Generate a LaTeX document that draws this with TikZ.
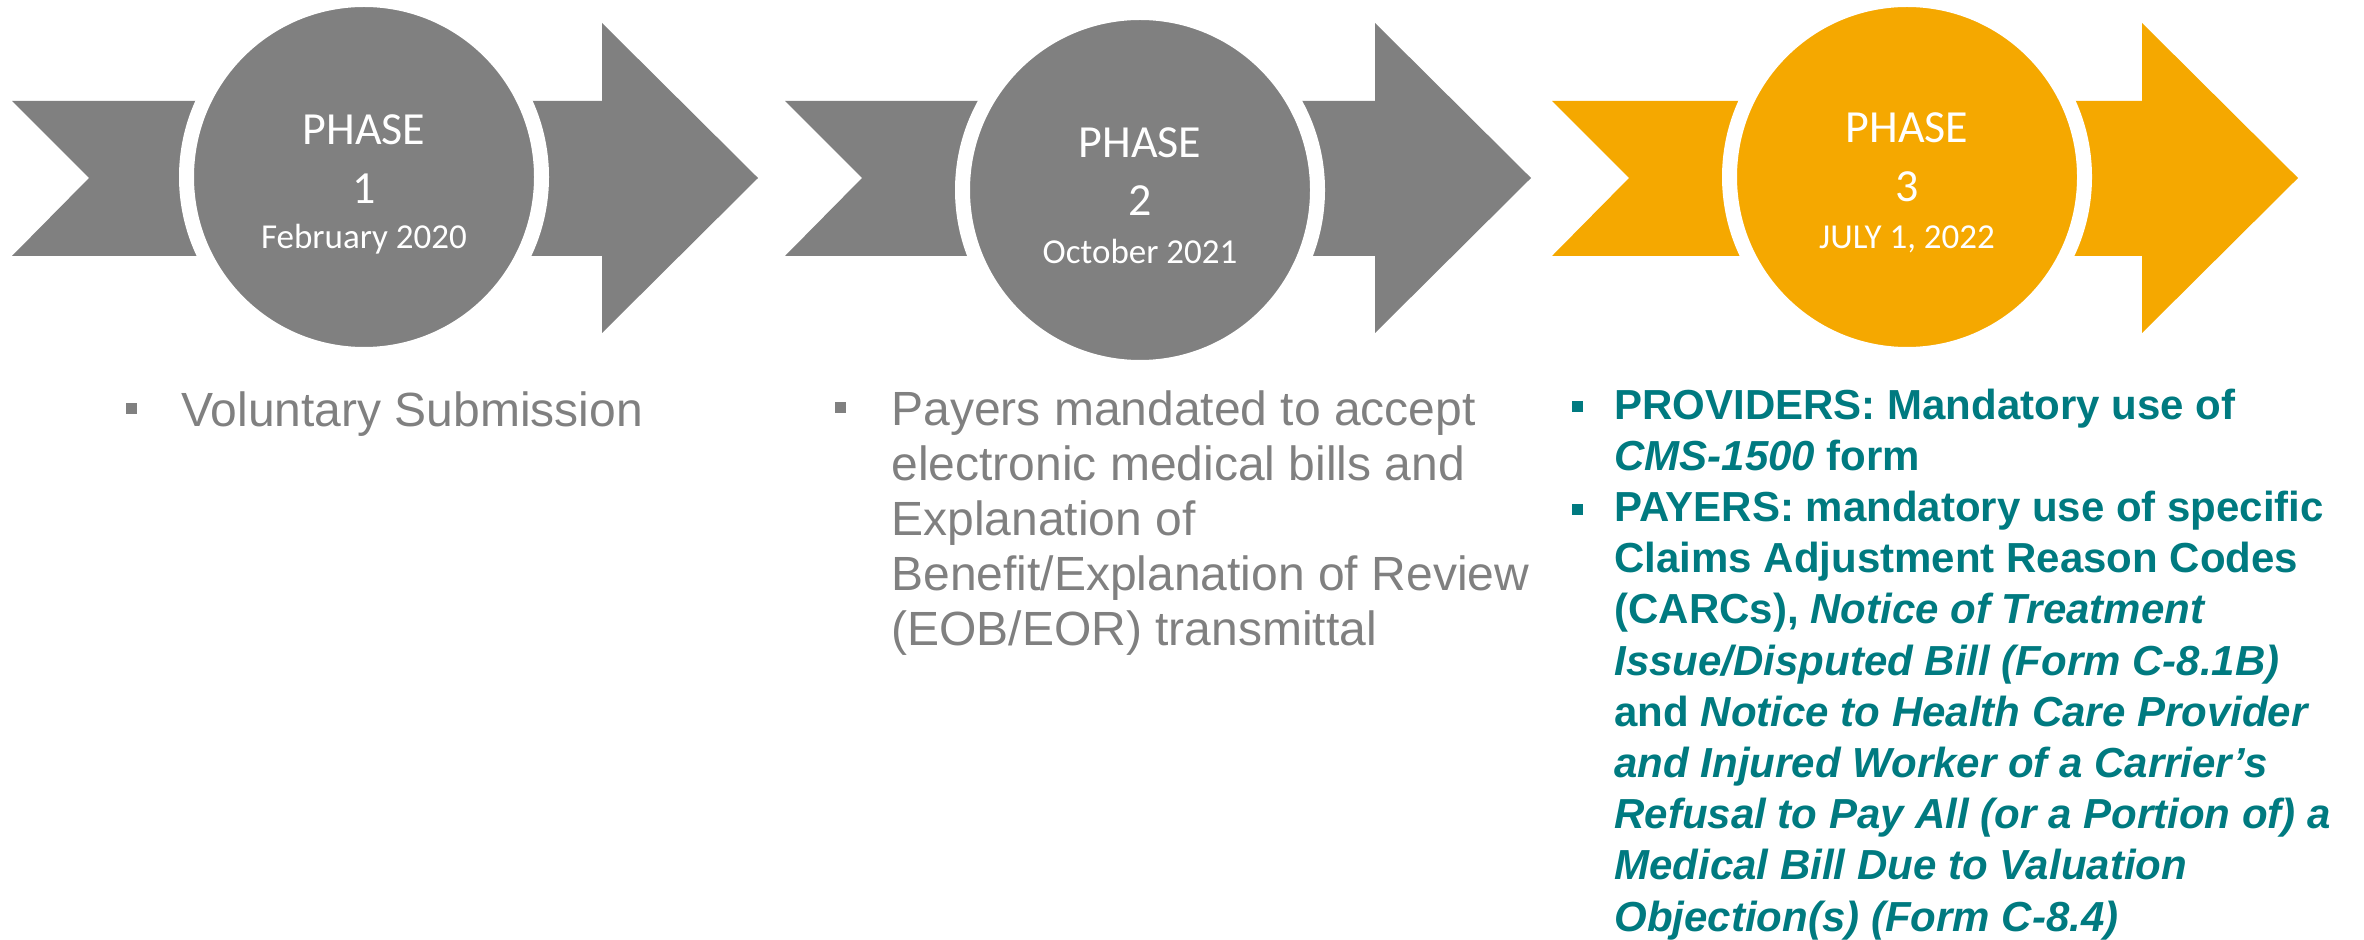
\documentclass[tikz,border=0pt]{standalone}
\usepackage{fontspec}
\setmainfont{Liberation Sans}
\newfontfamily\calfont{Carlito}
\usetikzlibrary{calc}
\definecolor{phgray}{RGB}{128,128,128}
\definecolor{phorange}{RGB}{245,168,0}
\definecolor{phteal}{RGB}{0,122,128}
\newcommand{\phasearrow}[2]{\fill[#2] (#1,101) -- ++(590,0) -- ++(0,-78) -- ++(156,155) -- ++(-156,155) -- ++(0,-77) -- ++(-590,0) -- ++(77,-78) -- cycle;}

\begin{document}
\begin{tikzpicture}[x=0.5pt,y=-0.5pt,
    disc/.style={circle,fill=#1,draw=white,line width=7.5pt,minimum size=177.5pt,inner sep=0pt},
    phtitle/.style={anchor=base,text=white,inner sep=0pt,font=\calfont\fontsize{23}{28}\selectfont},
    phdate/.style={anchor=base,text=white,inner sep=0pt,font=\calfont\fontsize{17.5}{21}\selectfont},
    sq/.style={fill=#1,minimum size=5.5pt,inner sep=0pt},
    graytext/.style={anchor=base west,inner sep=0pt,text=phgray,align=left,font=\fontsize{24}{27.5}\selectfont},
    tealtext/.style={anchor=base west,inner sep=0pt,text=phteal,align=left,font=\fontsize{21}{25.6}\selectfont\bfseries}]
    \useasboundingbox (0,0) rectangle (2364,940);
    %arrows
    \phasearrow{12}{phgray}
    \phasearrow{785}{phgray}
    \phasearrow{1552}{phorange}
    %circles
    \node[disc=phgray] (c1) at (364,177) {};
    \node[disc=phgray] (c2) at (1140,190) {};
    \node[disc=phorange] (c3) at (1907,177) {};
    \node[phtitle] (t1) at (364,145) {PHASE};
    \node[phtitle] (n1) at (364,204) {1};
    \node[phdate] (d1) at (364,249) {February 2020};
    \node[phtitle] (t2) at (1140,158) {PHASE};
    \node[phtitle] (n2) at (1140,216) {2};
    \node[phdate] (d2) at (1140,264) {October 2021};
    \node[phtitle] (t3) at (1907,143) {PHASE};
    \node[phtitle] (n3) at (1907,202) {3};
    \node[phdate] (d3) at (1907,249) {JULY 1, 2022};
    %bullets (base = last line)
    \node[sq=phgray] (q1) at (131,409) {};
    \node[graytext] (b1) at (181,427) {Voluntary Submission};
    \node[sq=phgray] (q2) at (840,408) {};
    \node[graytext] (b2) at (891,645) {Payers mandated to accept\\electronic medical bills and\\Explanation of\\Benefit/Explanation of Review\\(EOB/EOR) transmittal};
    \node[sq=phteal] (q3) at (1577,407) {};
    \node[tealtext] (b3) at (1614,470.2) {PROVIDERS: Mandatory use of\\\textit{CMS-1500} form};
    \node[sq=phteal] (q4) at (1577,509.4) {};
    \node[tealtext] (b4) at (1614,931) {PAYERS: mandatory use of specific\\Claims Adjustment Reason Codes\\(CARCs), \textit{Notice of Treatment}\\\textit{Issue/Disputed Bill (Form C-8.1B)}\\and \textit{Notice to Health Care Provider}\\\textit{and Injured Worker of a Carrier’s}\\\textit{Refusal to Pay All (or a Portion of) a}\\\textit{Medical Bill Due to Valuation}\\\textit{Objection(s) (Form C-8.4)}};
\end{tikzpicture}
\end{document}
